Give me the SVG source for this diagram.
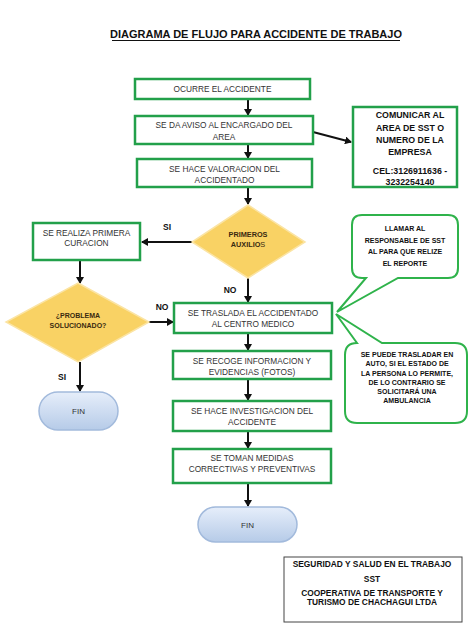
<svg xmlns="http://www.w3.org/2000/svg" width="474" height="632" viewBox="0 0 474 632">
<defs>
<marker id="ah" markerWidth="8" markerHeight="8" refX="6" refY="4" orient="auto" markerUnits="userSpaceOnUse">
<path d="M0,0 L7,4 L0,8 Z" fill="#111"/>
</marker>
<linearGradient id="fin" x1="0" y1="0" x2="0" y2="1">
<stop offset="0" stop-color="#e6eefa"/>
<stop offset="1" stop-color="#b6cbe8"/>
</linearGradient>
<style>
.box{fill:#fff;stroke:#22a04a;stroke-width:2.5}
.dia{fill:#f9d264;stroke:#fbe4a4;stroke-width:1.5}
.term{fill:url(#fin);stroke:#a2badc;stroke-width:1.5}
.bub{fill:#fff;stroke:#2fb34b;stroke-width:2;stroke-linejoin:miter}
.t{font-family:"Liberation Sans",Arial,sans-serif;font-size:8.3px;fill:#333;text-anchor:middle}
.tb{font-family:"Liberation Sans",Arial,sans-serif;font-weight:bold;text-anchor:middle;fill:#111}
.dt{font-size:7.3px;fill:#3a2a10}
.bt{font-size:7px;fill:#111}
.lbl{font-size:8.5px;fill:#111}
.con{stroke:#111;stroke-width:2;fill:none;marker-end:url(#ah)}
</style>
</defs>
<rect width="474" height="632" fill="#fff"/>
<g id="title">
<text class="tb" x="256" y="38" style="font-size:11px">DIAGRAMA DE FLUJO PARA ACCIDENTE DE TRABAJO</text>
<line x1="112" y1="40.5" x2="400" y2="40.5" stroke="#111" stroke-width="1"/>
</g>
<g id="connectors">
<line class="con" x1="248" y1="99" x2="248" y2="115"/>
<line class="con" x1="248" y1="144" x2="248" y2="158"/>
<line class="con" x1="248" y1="187" x2="248" y2="204"/>
<line class="con" x1="313" y1="132" x2="351" y2="142"/>
<line class="con" x1="192" y1="242" x2="142" y2="242"/>
<line class="con" x1="248" y1="278" x2="248" y2="302"/>
<line class="con" x1="80" y1="260" x2="80" y2="283"/>
<line class="con" x1="149" y1="322" x2="173" y2="322"/>
<line class="con" x1="80" y1="362" x2="80" y2="391"/>
<line class="con" x1="248" y1="333" x2="248" y2="350"/>
<line class="con" x1="248" y1="379" x2="248" y2="400"/>
<line class="con" x1="248" y1="431" x2="248" y2="448"/>
<line class="con" x1="248" y1="483" x2="248" y2="506"/>
<text class="tb lbl" x="167" y="230">SI</text>
<text class="tb lbl" x="230" y="293">NO</text>
<text class="tb lbl" x="162" y="310">NO</text>
<text class="tb lbl" x="62" y="380">SI</text>
</g>
<g id="n1">
<rect class="box" x="135" y="79" width="175" height="20"/>
<text class="t" x="222.5" y="92">OCURRE EL ACCIDENTE</text>
</g>
<g id="n2">
<rect class="box" x="135" y="116" width="178" height="28"/>
<text class="t" x="224" y="128">SE DA AVISO AL ENCARGADO DEL</text>
<text class="t" x="224" y="140">AREA</text>
</g>
<g id="n3">
<rect class="box" x="137" y="159" width="175" height="28"/>
<text class="t" x="224.5" y="172">SE HACE VALORACION DEL</text>
<text class="t" x="224.5" y="183">ACCIDENTADO</text>
</g>
<g id="n-comunicar">
<rect class="box" x="353" y="107" width="104" height="80"/>
<text class="tb" style="font-size:8.8px" x="410" y="118">COMUNICAR AL</text>
<text class="tb" style="font-size:8.8px" x="410" y="131">AREA DE SST O</text>
<text class="tb" style="font-size:8.8px" x="410" y="143">NUMERO DE LA</text>
<text class="tb" style="font-size:8.8px" x="410" y="155">EMPRESA</text>
<text class="tb" style="font-size:8.8px" x="410" y="174">CEL:3126911636 -</text>
<text class="tb" style="font-size:8.8px" x="410" y="185">3232254140</text>
</g>
<g id="d-primeros">
<polygon class="dia" points="248,205 305,242 248,278 192,242"/>
<text class="tb dt" x="248" y="237">PRIMEROS</text>
<text class="tb dt" x="248" y="247">AUXILIO<tspan font-weight="normal">S</tspan></text>
</g>
<g id="n-curacion">
<rect class="box" x="33" y="223" width="107" height="37"/>
<text class="t" x="86.5" y="236">SE REALIZA PRIMERA</text>
<text class="t" x="86.5" y="246">CURACION</text>
</g>
<g id="d-problema">
<polygon class="dia" points="78,283 149,322 78,362 6,322"/>
<text class="tb" style="font-size:7px;fill:#3a2a10" x="78" y="318">¿PROBLEMA</text>
<text class="tb" style="font-size:7px;fill:#3a2a10" x="78" y="327.5">SOLUCIONADO?</text>
</g>
<g id="fin1">
<rect class="term" x="39" y="392" width="79" height="38" rx="19"/>
<text class="t" style="font-size:8px" x="78.5" y="414">FIN</text>
</g>
<g id="n-traslada">
<rect class="box" x="174" y="303" width="158" height="30"/>
<text class="t" x="253" y="316">SE TRASLADA EL ACCIDENTADO</text>
<text class="t" x="253" y="327">AL CENTRO MEDICO</text>
</g>
<g id="n-recoge">
<rect class="box" x="173" y="351" width="158" height="28"/>
<text class="t" x="252" y="364">SE RECOGE INFORMACION Y</text>
<text class="t" x="252" y="375">EVIDENCIAS (FOTOS)</text>
</g>
<g id="n-investigacion">
<rect class="box" x="173" y="401" width="158" height="30"/>
<text class="t" x="252" y="414">SE HACE INVESTIGACION DEL</text>
<text class="t" x="252" y="425">ACCIDENTE</text>
</g>
<g id="n-medidas">
<rect class="box" x="173" y="449" width="158" height="34"/>
<text class="t" x="252" y="461">SE TOMAN MEDIDAS</text>
<text class="t" x="252" y="472">CORRECTIVAS Y PREVENTIVAS</text>
</g>
<g id="fin2">
<rect class="term" x="198" y="507" width="99" height="35" rx="17.5"/>
<text class="t" style="font-size:8px" x="247.5" y="527.5">FIN</text>
</g>
<g id="b-llamar">
<path class="bub" d="M362,215 H448 Q458,215 458,225 V268 Q458,278 448,278 H398 L337,312 L366,278 H362 Q352,278 352,268 V225 Q352,215 362,215 Z"/>
<text class="tb bt" x="405" y="230.5">LLAMAR AL</text>
<text class="tb bt" x="405" y="242.5">RESPONSABLE DE  SST</text>
<text class="tb bt" x="405" y="254">AL PARA QUE RELIZE</text>
<text class="tb bt" x="405" y="265.5">EL REPORTE</text>
</g>
<g id="b-traslado">
<path class="bub" d="M357,343 L336,314 L382,343 H455 Q467,343 467,355 V411 Q467,423 455,423 H357 Q345,423 345,411 V355 Q345,343 357,343 Z"/>
<text class="tb bt" x="407" y="356.5">SE PUEDE TRASLADAR EN</text>
<text class="tb bt" x="407" y="366">AUTO, SI EL ESTADO DE</text>
<text class="tb bt" x="407" y="375.5">LA PERSONA LO PERMITE,</text>
<text class="tb bt" x="407" y="384.5">DE LO CONTRARIO SE</text>
<text class="tb bt" x="407" y="393.5">SOLICITARÁ UNA</text>
<text class="tb bt" x="407" y="402.5">AMBULANCIA</text>
</g>
<g id="footer">
<rect x="284" y="557" width="178" height="65" fill="#fff" stroke="#444" stroke-width="1"/>
<text class="tb" style="font-size:8.4px" x="372" y="567">SEGURIDAD Y SALUD EN EL TRABAJO</text>
<text class="tb" style="font-size:8.4px" x="372" y="582">SST</text>
<text class="tb" style="font-size:8.4px" x="372" y="596">COOPERATIVA DE TRANSPORTE Y</text>
<text class="tb" style="font-size:8.4px" x="372" y="604.5">TURISMO DE CHACHAGUI LTDA</text>
</g>
</svg>
